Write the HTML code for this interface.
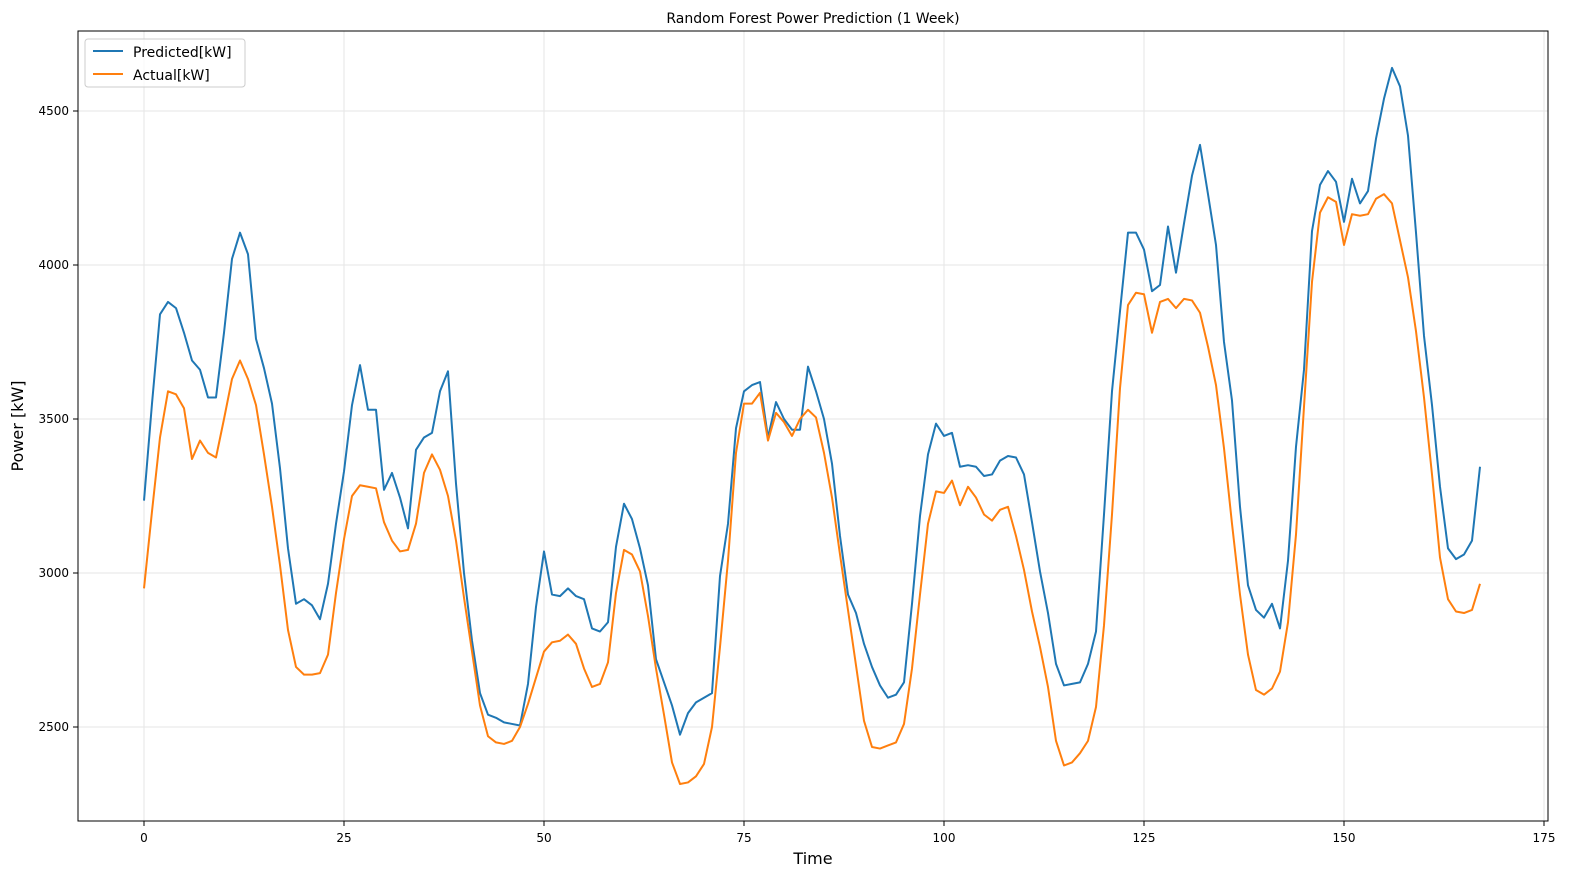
<!DOCTYPE html>
<html><head><meta charset="utf-8"><style>
body{margin:0;background:#fff;font-family:"Liberation Sans","DejaVu Sans",sans-serif}
svg text{font-family:"DejaVu Sans","Liberation Sans",sans-serif;fill:#000}
</style></head><body>
<svg id="chart" width="1589" height="889">
<text x="813" y="23" font-size="14" text-anchor="middle">Random Forest Power Prediction (1 Week)</text>
<g id="grid"></g><g id="ticks"></g><g id="lines"></g>
<rect x="78" y="31" width="1470" height="790" fill="none" stroke="#000" stroke-width="1"/>
<text x="813" y="864" font-size="16" text-anchor="middle">Time</text>
<text x="23" y="426" font-size="16" text-anchor="middle" transform="rotate(-90 23 426)">Power [kW]</text>
<g>
<rect x="85" y="39" width="160" height="48" rx="3" fill="#fff" fill-opacity="0.8" stroke="#ccc"/>
<g><line x1="93" y1="51" x2="123" y2="51" stroke="#1f77b4" stroke-width="2"/><text x="133" y="57" font-size="14">Predicted[kW]</text></g>
<g><line x1="93" y1="74" x2="123" y2="74" stroke="#ff7f0e" stroke-width="2"/><text x="133" y="80" font-size="14">Actual[kW]</text></g>
</g>
</svg>
<script>
const xTicks=[0,25,50,75,100,125,150,175];
const yTicks=[2500,3000,3500,4000,4500];
const predicted=[3235,3550,3840,3880,3860,3780,3690,3660,3570,3570,3780,4020,4105,4035,3760,3665,3550,3340,3080,2900,2915,2895,2850,2965,3160,3330,3545,3675,3530,3530,3270,3325,3245,3145,3400,3440,3455,3590,3655,3290,3000,2780,2610,2540,2530,2515,2510,2505,2640,2890,3070,2930,2925,2950,2925,2915,2820,2810,2840,3085,3225,3175,3080,2960,2720,2645,2570,2475,2545,2580,2595,2610,2990,3160,3470,3590,3610,3620,3440,3555,3500,3465,3465,3670,3590,3500,3355,3120,2930,2870,2770,2695,2635,2595,2605,2645,2900,3185,3385,3485,3445,3455,3345,3350,3345,3315,3320,3365,3380,3375,3320,3165,3005,2870,2705,2635,2640,2645,2705,2810,3190,3590,3850,4105,4105,4050,3915,3935,4125,3975,4135,4290,4390,4230,4065,3750,3560,3215,2960,2880,2855,2900,2820,3040,3410,3660,4110,4260,4305,4270,4140,4280,4200,4240,4410,4540,4640,4580,4420,4105,3770,3545,3280,3080,3045,3060,3105,3345];
const actual=[2950,3200,3440,3590,3580,3535,3370,3430,3390,3375,3500,3630,3690,3630,3545,3385,3215,3025,2815,2695,2670,2670,2675,2735,2935,3110,3250,3285,3280,3275,3165,3105,3070,3075,3160,3325,3385,3335,3250,3105,2920,2745,2570,2470,2450,2445,2455,2500,2575,2660,2745,2775,2780,2800,2770,2690,2630,2640,2710,2935,3075,3060,3005,2860,2690,2540,2385,2315,2320,2340,2380,2500,2760,3040,3390,3550,3550,3585,3430,3520,3490,3445,3500,3530,3505,3390,3245,3060,2880,2700,2520,2435,2430,2440,2450,2510,2690,2930,3160,3265,3260,3300,3220,3280,3245,3190,3170,3205,3215,3120,3010,2875,2760,2630,2455,2375,2385,2415,2455,2565,2830,3190,3600,3870,3910,3905,3780,3880,3890,3860,3890,3885,3845,3735,3610,3405,3160,2930,2735,2620,2605,2625,2680,2840,3125,3540,3945,4170,4220,4205,4065,4165,4160,4165,4215,4230,4200,4080,3960,3785,3570,3320,3050,2915,2875,2870,2880,2965];
const NS='http://www.w3.org/2000/svg';
const X=t=>144+t*8;
const Y=v=>727-(v-2500)*0.308;
const grid=document.getElementById('grid'),ticks=document.getElementById('ticks'),lines=document.getElementById('lines');
function mk(tag,attrs,parent){const e=document.createElementNS(NS,tag);for(const k in attrs)e.setAttribute(k,attrs[k]);parent.appendChild(e);return e;}
xTicks.forEach(t=>{
 const g=mk('line',{x1:X(t),x2:X(t),y1:31,y2:821,stroke:'#e5e5e5','stroke-width':1},grid);
 
 
 mk('line',{x1:X(t),x2:X(t),y1:821,y2:826,stroke:'#000'},ticks);
 const tx=mk('text',{x:X(t),y:842,'font-size':12,'text-anchor':'middle'},ticks);tx.textContent=t;
 
 
});
yTicks.forEach(v=>{
 const g=mk('line',{x1:78,x2:1548,y1:Y(v),y2:Y(v),stroke:'#e5e5e5','stroke-width':1},grid);
 
 
 mk('line',{x1:73,x2:78,y1:Y(v),y2:Y(v),stroke:'#000'},ticks);
 const tx=mk('text',{x:69,y:Y(v)+4,'font-size':12,'text-anchor':'end'},ticks);tx.textContent=v;
 
 
});
function series(data,color,name){
 const p=mk('polyline',{points:data.map((v,i)=>X(i)+','+Y(v)).join(' '),fill:'none',stroke:color,'stroke-width':2,'stroke-linejoin':'round'},lines);
 
 
}
series(predicted,'#1f77b4','predicted-line');
series(actual,'#ff7f0e','actual-line');
</script>
</body></html>
